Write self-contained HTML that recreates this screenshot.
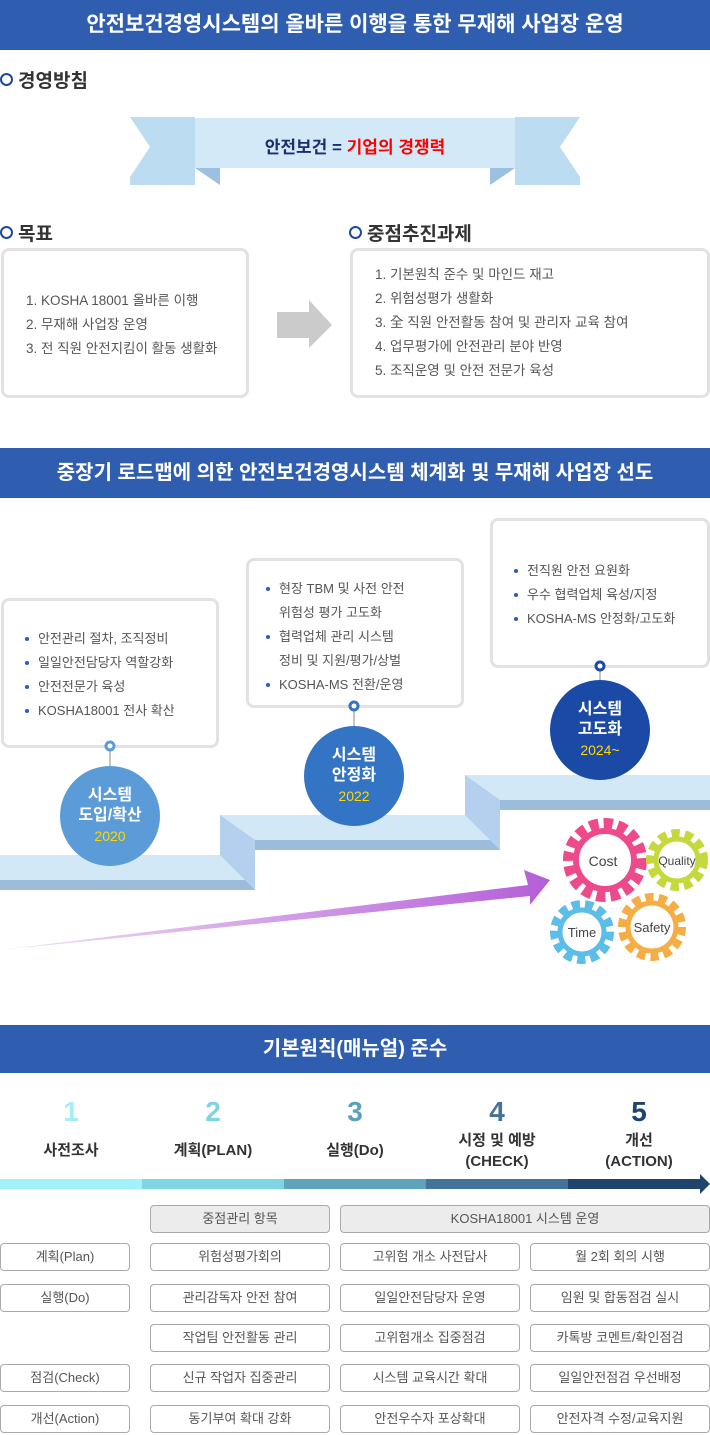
<!DOCTYPE html>
<html><head><meta charset="utf-8"><style>
*{margin:0;padding:0;box-sizing:border-box}
body{width:710px;height:1435px;position:relative;background:#fff;font-family:"Liberation Sans","Noto Sans CJK KR",sans-serif;overflow:hidden}
.a{position:absolute}
.hd{position:absolute;left:0;width:710px;background:#2f5eb0;color:#fff;font-size:21px;font-weight:bold;text-align:center}
.sh{position:absolute;font-size:19px;font-weight:bold;color:#333;display:flex;align-items:center}
.sh:before{content:"";width:9px;height:9px;border:2.5px solid #1d4a9a;border-radius:50%;margin-right:5px}
.box{position:absolute;border:3px solid #e2e2e2;border-radius:8px;background:#fff;font-size:13px;color:#555}
.box ul{list-style:none}
.box li{line-height:24px;position:relative;padding-left:16px}
.box li:before{content:"";position:absolute;left:3px;top:10px;width:4px;height:4px;border-radius:50%;background:#2c5cb5}
.cell{position:absolute;height:28px;border:1px solid #aaa;border-radius:4px;font-size:13px;color:#555;text-align:center;line-height:26px;background:#fff}
.g{background:#ececec}
.num{position:absolute;width:142px;text-align:center;font-size:28px;font-weight:bold}
.lb{position:absolute;width:142px;text-align:center;font-size:15px;font-weight:bold;color:#333;line-height:21px}
.circ{position:absolute;width:100px;height:100px;border-radius:50%;color:#fff;text-align:center;font-size:16px;font-weight:bold;line-height:20px;display:flex;flex-direction:column;justify-content:center}
.circ span{color:#ffd800;font-weight:normal;font-size:14px}
</style></head><body>
<div class="hd" style="top:0;height:50px;line-height:50px">안전보건경영시스템의 올바른 이행을 통한 무재해 사업장 운영</div>
<div class="sh" style="left:0;top:66px">경영방침</div>
<svg class="a" style="left:0;top:110px" width="710" height="80">
<polygon points="130,67 150,37 130,7 195,7 195,75 130,75" fill="#bcdcf2"/>
<polygon points="580,67 560,37 580,7 515,7 515,75 580,75" fill="#bcdcf2"/>
<polygon points="195,58 220,75 220,58" fill="#9cc0e0"/>
<polygon points="515,58 490,75 490,58" fill="#9cc0e0"/>
<rect x="195" y="8" width="320" height="50" fill="#d4e9f8"/>
</svg>
<div class="a" style="left:195px;top:133px;width:320px;text-align:center;font-size:17px;font-weight:bold;color:#1a2f70">안전보건 = <span style="color:#f00">기업의 경쟁력</span></div>
<div class="sh" style="left:0;top:219px">목표</div>
<div class="sh" style="left:349px;top:219px">중점추진과제</div>
<div class="box" style="left:1px;top:248px;width:248px;height:150px;padding:38px 0 0 22px;font-size:13.5px;line-height:24px">1. KOSHA 18001 올바른 이행<br>2. 무재해 사업장 운영<br>3. 전 직원 안전지킴이 활동 생활화</div>
<svg class="a" style="left:277px;top:300px" width="56" height="50"><polygon points="0,12 32,12 32,0 55,25 32,48 32,38 0,38" fill="#cbcbcb"/></svg>
<div class="box" style="left:350px;top:248px;width:360px;height:150px;padding:12px 0 0 22px;font-size:13.5px;line-height:24px">1. 기본원칙 준수 및 마인드 재고<br>2. 위험성평가 생활화<br>3. 全 직원 안전활동 참여 및 관리자 교육 참여<br>4. 업무평가에 안전관리 분야 반영<br>5. 조직운영 및 안전 전문가 육성</div>

<div class="hd" style="top:448px;height:50px;line-height:50px;font-size:20px">중장기 로드맵에 의한 안전보건경영시스템 체계화 및 무재해 사업장 선도</div>
<svg class="a" style="left:0;top:760px" width="710" height="200">
<defs><linearGradient id="pg" x1="0" x2="1"><stop offset="0" stop-color="#f3e2f6"/><stop offset="1" stop-color="#b45ed8"/></linearGradient></defs>
<polygon points="0,95 220,95 220,55 465,55 465,15 710,15 710,40 500,40 500,80 255,80 255,120 0,120" fill="#d3e8f7"/>
<polygon points="0,120 255,120 255,130 0,130" fill="#9cbcdc"/>
<polygon points="220,55 255,80 255,130 220,95" fill="#b4d0ee"/>
<polygon points="255,80 500,80 500,90 255,90" fill="#9cbcdc"/>
<polygon points="465,15 500,40 500,90 465,55" fill="#b4d0ee"/>
<polygon points="500,40 710,40 710,50 500,50" fill="#9cbcdc"/>
<polygon points="0,190 528,125 524,110 550,120 530,145 530,136" fill="url(#pg)"/>
</svg>
<div class="box" style="left:1px;top:598px;width:218px;height:150px;padding:26px 0 0 18px"><ul><li>안전관리 절차, 조직정비</li><li>일일안전담당자 역할강화</li><li>안전전문가 육성</li><li>KOSHA18001 전사 확산</li></ul></div>
<div class="box" style="left:246px;top:558px;width:218px;height:150px;padding:16px 0 0 14px"><ul><li>현장 TBM 및 사전 안전<br>위험성 평가 고도화</li><li>협력업체 관리 시스템<br>정비 및 지원/평가/상벌</li><li>KOSHA-MS 전환/운영</li></ul></div>
<div class="box" style="left:490px;top:518px;width:220px;height:150px;padding:38px 0 0 18px"><ul><li>전직원 안전 요원화</li><li>우수 협력업체 육성/지정</li><li>KOSHA-MS 안정화/고도화</li></ul></div>
<svg class="a" style="left:0;top:660px" width="710" height="110">
<g stroke="#888" stroke-width="1"><line x1="110" y1="90" x2="110" y2="110"/><line x1="354" y1="50" x2="354" y2="70"/><line x1="600" y1="10" x2="600" y2="30"/></g>
<g fill="#fff" stroke-width="3"><circle cx="110" cy="86" r="4" stroke="#5b9bd8"/><circle cx="354" cy="46" r="4" stroke="#3474c4"/><circle cx="600" cy="6" r="4" stroke="#1a4aa6"/></g>
</svg>
<div class="circ" style="left:60px;top:766px;background:#5b9bd8">시스템<br>도입/확산<span>2020</span></div>
<div class="circ" style="left:304px;top:726px;background:#3474c4">시스템<br>안정화<span>2022</span></div>
<div class="circ" style="left:550px;top:680px;background:#1a4aa6">시스템<br>고도화<span>2024~</span></div>
<svg class="a" style="left:540px;top:810px" width="170" height="170" font-family="Liberation Sans Narrow,Liberation Sans,sans-serif">
<g fill="none">
<circle cx="65" cy="50" r="36" stroke="#ec4a8a" stroke-width="12" stroke-dasharray="9 5"/>
<circle cx="65" cy="50" r="29" stroke="#ec4a8a" stroke-width="6"/>
<circle cx="137" cy="50" r="26" stroke="#c6d93c" stroke-width="10" stroke-dasharray="8 5"/>
<circle cx="137" cy="50" r="21" stroke="#c6d93c" stroke-width="5"/>
<circle cx="42" cy="122" r="27" stroke="#5cbde8" stroke-width="10" stroke-dasharray="8 5"/>
<circle cx="42" cy="122" r="22" stroke="#5cbde8" stroke-width="5"/>
<circle cx="112" cy="117" r="29" stroke="#f4ae45" stroke-width="10" stroke-dasharray="8 5"/>
<circle cx="112" cy="117" r="24" stroke="#f4ae45" stroke-width="5"/>
</g>
<g fill="#444" font-size="14" text-anchor="middle"><text x="63" y="56">Cost</text><text x="137" y="55" font-size="12">Quality</text><text x="42" y="127" font-size="13">Time</text><text x="112" y="122" font-size="13">Safety</text></g>
</svg>

<div class="hd" style="top:1025px;height:48px;line-height:48px;font-size:20px">기본원칙(매뉴얼) 준수</div>
<div class="num" style="left:0;top:1096px;color:#a3eef8">1</div>
<div class="num" style="left:142px;top:1096px;color:#7ed4e0">2</div>
<div class="num" style="left:284px;top:1096px;color:#5aa2b8">3</div>
<div class="num" style="left:426px;top:1096px;color:#44739a">4</div>
<div class="num" style="left:568px;top:1096px;color:#1f456e">5</div>
<div class="lb" style="left:0;top:1140px">사전조사</div>
<div class="lb" style="left:142px;top:1140px">계획(PLAN)</div>
<div class="lb" style="left:284px;top:1140px">실행(Do)</div>
<div class="lb" style="left:426px;top:1130px">시정 및 예방<br>(CHECK)</div>
<div class="lb" style="left:568px;top:1130px">개선<br>(ACTION)</div>
<svg class="a" style="left:0;top:1174px" width="710" height="20">
<rect x="0" y="5" width="142" height="10" fill="#a3f2fa"/><rect x="142" y="5" width="142" height="10" fill="#7ed6e2"/><rect x="284" y="5" width="142" height="10" fill="#5ea4ba"/><rect x="426" y="5" width="142" height="10" fill="#44739a"/><rect x="568" y="5" width="132" height="10" fill="#1f456e"/><polygon points="700,0 710,10 700,20" fill="#1f456e"/>
</svg>
<div class="cell g" style="left:150px;top:1205px;width:180px">중점관리 항목</div>
<div class="cell g" style="left:340px;top:1205px;width:370px">KOSHA18001 시스템 운영</div>
<div class="cell" style="left:0;top:1243px;width:130px">계획(Plan)</div>
<div class="cell" style="left:150px;top:1243px;width:180px">위험성평가회의</div>
<div class="cell" style="left:340px;top:1243px;width:180px">고위험 개소 사전답사</div>
<div class="cell" style="left:530px;top:1243px;width:180px">월 2회 회의 시행</div>
<div class="cell" style="left:0;top:1284px;width:130px">실행(Do)</div>
<div class="cell" style="left:150px;top:1284px;width:180px">관리감독자 안전 참여</div>
<div class="cell" style="left:340px;top:1284px;width:180px">일일안전담당자 운영</div>
<div class="cell" style="left:530px;top:1284px;width:180px">임원 및 합동점검 실시</div>
<div class="cell" style="left:150px;top:1324px;width:180px">작업팀 안전활동 관리</div>
<div class="cell" style="left:340px;top:1324px;width:180px">고위험개소 집중점검</div>
<div class="cell" style="left:530px;top:1324px;width:180px">카톡방 코멘트/확인점검</div>
<div class="cell" style="left:0;top:1364px;width:130px">점검(Check)</div>
<div class="cell" style="left:150px;top:1364px;width:180px">신규 작업자 집중관리</div>
<div class="cell" style="left:340px;top:1364px;width:180px">시스템 교육시간 확대</div>
<div class="cell" style="left:530px;top:1364px;width:180px">일일안전점검 우선배정</div>
<div class="cell" style="left:0;top:1405px;width:130px">개선(Action)</div>
<div class="cell" style="left:150px;top:1405px;width:180px">동기부여 확대 강화</div>
<div class="cell" style="left:340px;top:1405px;width:180px">안전우수자 포상확대</div>
<div class="cell" style="left:530px;top:1405px;width:180px">안전자격 수정/교육지원</div>
</body></html>
